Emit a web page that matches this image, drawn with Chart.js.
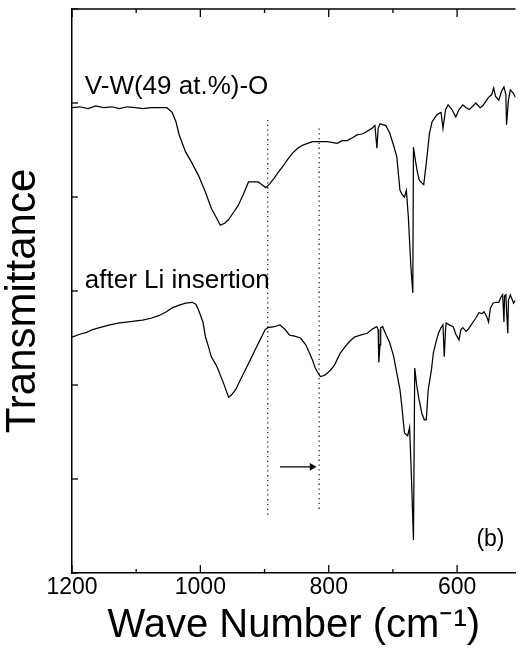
<!DOCTYPE html>
<html><head><meta charset="utf-8">
<script src="https://cdn.jsdelivr.net/npm/chart.js@4.4.1/dist/chart.umd.min.js"></script>
<style>html,body{margin:0;padding:0;background:#fff;overflow:hidden}#wrap{position:relative;width:520px;height:661px}</style>
</head><body><div id="wrap"><canvas id="c"></canvas></div>
<script>
// Wavenumber (cm-1) and transmittance (arb. units) for V-W(49 at.%)-O film
const waveTop = [1200,1188,1175,1163,1151,1138,1126,1114,1101,1089,1077,1064,1052,1044,1038,1033,1023,1013,1003,992,983,975,969,962,956,949,941,933,925,918,910,904,898,892,885,879,871,864,856,848,841,833,825,817,802,787,779,771,763,756,748,740,733,728,725,723,720,716,711,705,699,694,689,685,682,679,676,672,669,668,665,662,659,655,652,648,643,639,632,628,625,622,618,614,608,602,597,591,586,581,575,571,564,560,555,551,546,543,540,535,531,527,524,523,520,517,512,509];
const transTop = [4.95,4.96,4.94,4.97,4.95,4.96,4.94,4.96,4.95,4.94,4.95,4.95,4.95,4.90,4.80,4.66,4.48,4.36,4.23,4.05,3.88,3.78,3.70,3.72,3.76,3.83,3.91,4.03,4.16,4.16,4.16,4.13,4.10,4.14,4.20,4.26,4.33,4.40,4.47,4.52,4.55,4.57,4.59,4.59,4.59,4.57,4.60,4.60,4.63,4.66,4.67,4.70,4.73,4.76,4.52,4.73,4.78,4.77,4.76,4.68,4.55,4.43,4.07,4.02,4.00,4.07,3.79,3.26,2.98,4.53,4.39,4.27,4.18,4.15,4.13,4.36,4.68,4.80,4.87,4.89,4.90,4.73,4.93,4.98,4.93,4.85,4.93,4.98,4.95,4.93,4.97,5.00,4.95,4.97,5.02,5.06,5.09,5.16,5.07,5.03,5.12,5.17,5.09,4.77,5.03,5.14,5.10,5.06];
// after Li insertion
const waveLi = [1200,1188,1177,1168,1157,1141,1126,1115,1103,1090,1077,1064,1053,1044,1033,1023,1013,1007,1003,996,992,987,983,976,972,964,956,952,945,938,930,922,915,907,899,895,885,876,868,861,853,844,836,830,825,821,816,813,808,805,797,791,787,782,774,768,760,751,740,733,728,725,723,722,720,719,716,711,705,699,694,689,686,682,677,674,671,668,666,663,660,655,651,648,645,640,637,632,629,625,622,620,618,617,612,606,602,597,594,591,586,583,578,575,571,566,561,558,554,551,548,544,540,535,532,529,527,526,524,523,521,520,517,512,509];
const transLi = [2.51,2.54,2.56,2.59,2.61,2.64,2.66,2.67,2.68,2.69,2.71,2.74,2.78,2.82,2.85,2.87,2.88,2.86,2.80,2.67,2.51,2.40,2.30,2.22,2.16,2.02,1.87,1.89,1.95,2.05,2.16,2.27,2.37,2.48,2.59,2.61,2.62,2.64,2.59,2.53,2.52,2.50,2.43,2.34,2.26,2.18,2.12,2.09,2.10,2.11,2.16,2.21,2.27,2.34,2.41,2.46,2.51,2.53,2.55,2.59,2.61,2.62,2.59,2.24,2.43,2.61,2.62,2.54,2.45,2.31,2.13,1.95,1.77,1.49,1.46,1.55,0.99,0.35,2.18,2.00,1.87,1.70,1.63,1.63,1.95,2.16,2.34,2.48,2.55,2.61,2.64,2.30,2.59,2.66,2.64,2.62,2.54,2.48,2.59,2.61,2.57,2.59,2.64,2.67,2.71,2.77,2.76,2.78,2.73,2.67,2.82,2.87,2.88,2.88,2.93,2.96,2.67,2.95,2.96,2.80,2.55,2.90,2.96,2.87,2.90];
// axis ticks
const xTicks = [1200,1100,1000,900,800,700,600];
const xLabelTicks = [1200,1000,800,600];
const yTicks = [0,1,2,3,4,5,6];
// guide lines (wavenumber, top, bottom) and shift arrow
const guideWave = [895,815];
const guideTop = [4.82,4.73];
const guideBottom = [0.60,0.65];
const arrowWave = [876,826];
const arrowLevel = 1.13;
// text labels
const seriesLabels = ['V-W(49 at.%)-O','after Li insertion'];
const panelLabel = '(b)';

const FONT = "'Liberation Sans', Arial, Helvetica, sans-serif";
Chart.defaults.font.family = FONT;
Chart.defaults.color = '#000';

const toXY = (xs, ys) => xs.map((x,i)=>({x, y: ys[i]}));
const datasets = [
  {data: toXY(waveTop, transTop), borderColor:'#000', borderWidth:1.25, pointRadius:0, tension:0},
  {data: toXY(waveLi, transLi), borderColor:'#000', borderWidth:1.25, pointRadius:0, tension:0},
];
guideWave.forEach((w,i)=>datasets.push({data:[{x:w,y:guideTop[i]},{x:w,y:guideBottom[i]}], borderColor:'#222', borderWidth:1.3, borderDash:[1.3,3.5], pointRadius:0}));
datasets.push({data:[{x:arrowWave[0],y:arrowLevel},{x:arrowWave[1],y:arrowLevel}], borderColor:'#000', borderWidth:1.2, pointRadius:[0,4.5], pointStyle:'triangle', rotation:90, pointBackgroundColor:'#000', pointBorderColor:'#000', pointBorderWidth:0});

const decor = {
  id:'decor',
  afterDraw(chart){
    const {ctx, chartArea:a, scales:{x, y}} = chart;
    ctx.save();
    ctx.strokeStyle='#000'; ctx.lineWidth=1.5;
    ctx.beginPath(); ctx.moveTo(a.left, a.top); ctx.lineTo(a.right, a.top); ctx.stroke();
    ctx.lineWidth=1.3;
    xTicks.forEach(v=>{
      const px = x.getPixelForValue(v);
      const len = xLabelTicks.includes(v) ? 8 : 4;
      ctx.beginPath();
      ctx.moveTo(px, a.bottom); ctx.lineTo(px, a.bottom-len);
      ctx.moveTo(px, a.top); ctx.lineTo(px, a.top+len);
      ctx.stroke();
    });
    yTicks.forEach(v=>{
      const py = y.getPixelForValue(v);
      ctx.beginPath(); ctx.moveTo(a.left, py); ctx.lineTo(a.left+6, py); ctx.stroke();
    });
    ctx.fillStyle='#000';
    ctx.textBaseline='alphabetic'; ctx.textAlign='left';
    ctx.font = '26px ' + FONT;
    ctx.fillText(seriesLabels[0], x.getPixelForValue(1180), y.getPixelForValue(5.1));
    ctx.fillText(seriesLabels[1], x.getPixelForValue(1180), y.getPixelForValue(3.03));
    ctx.font = '23px ' + FONT; ctx.textAlign='center'; ctx.textBaseline='middle';
    ctx.fillText(panelLabel, x.getPixelForValue(548), y.getPixelForValue(0.36));
    // y-axis title
    ctx.font = '42px ' + FONT;
    ctx.translate(23, (a.top+a.bottom)/2 + 10);
    ctx.rotate(-Math.PI/2);
    ctx.fillText('Transmittance', 0, 0);
    ctx.restore();
  }
};

new Chart(document.getElementById('c'), {
  type:'line',
  data:{datasets},
  options:{
    responsive:true, maintainAspectRatio:false, animation:false, devicePixelRatio:1,
    parsing:true,
    layout:{padding:{top:9,left:0,right:0,bottom:0}},
    plugins:{legend:{display:false}, tooltip:{enabled:false}},
    scales:{
      x:{type:'linear', reverse:true, min:509, max:1200,
        afterBuildTicks:s=>{s.ticks = xTicks.map(v=>({value:v}));},
        afterFit:s=>{s.height=88;},
        ticks:{autoSkip:false, maxRotation:0, padding:1, font:{size:23}, color:'#000',
          callback:v=>xLabelTicks.includes(v)?String(v):''},
        grid:{display:false, drawTicks:false},
        border:{display:true, color:'#000', width:1.5},
        title:{display:true, text:'Wave Number (cm⁻¹)', font:{size:40}, color:'#000', padding:{top:0,bottom:11}}
      },
      y:{type:'linear', min:0, max:6,
        afterBuildTicks:s=>{s.ticks = yTicks.map(v=>({value:v}));},
        afterFit:s=>{s.width=72;},
        ticks:{display:false},
        grid:{display:false, drawTicks:false},
        border:{display:true, color:'#000', width:1.5},
        title:{display:false}
      }
    }
  },
  plugins:[decor]
});
</script></body></html>
